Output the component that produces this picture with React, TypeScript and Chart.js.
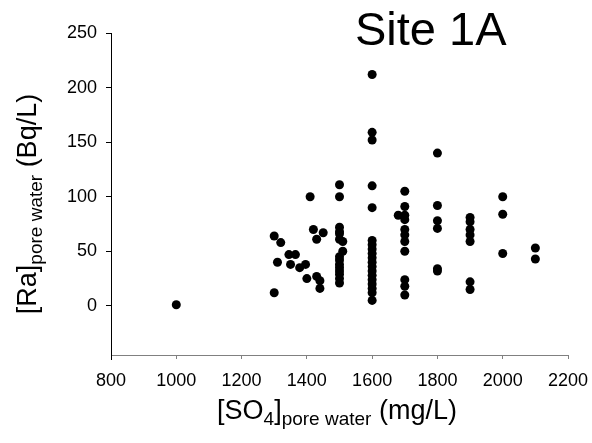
import { useEffect, useRef } from 'react';
import { Chart, registerables } from 'chart.js';

Chart.register(...registerables);

// [SO4] pore water (mg/L)
const sulfateMgL = [
  1000,
  1300, 1320, 1310, 1300, 1345, 1365, 1350, 1378, 1396, 1400, 1410, 1420, 1450, 1430, 1430, 1440, 1440,
  1500, 1500, 1500, 1500, 1500, 1500, 1500, 1500, 1500, 1500, 1500, 1500, 1500, 1500, 1510, 1510,
  1600, 1600, 1600, 1600, 1600, 1600, 1600, 1600, 1600, 1600, 1600, 1600, 1600, 1600, 1600, 1600, 1600, 1600, 1600,
  1700, 1700, 1700, 1700, 1700, 1700, 1700, 1700, 1700, 1700, 1700, 1680,
  1800, 1800, 1800, 1800, 1800, 1800,
  1900, 1900, 1900, 1900, 1900, 1900, 1900,
  2000, 2000, 2000,
  2100, 2100,
];

// [Ra] pore water (Bq/L)
const radiumBqL = [
  1,
  64, 58, 40, 12, 47, 47, 38, 35, 38, 25, 100, 70, 67, 61, 27, 23, 16,
  111, 100, 72, 66, 61, 45, 42, 38, 35, 32, 29, 25, 21, 68, 59, 50,
  212, 159, 152, 110, 90, 60, 56, 52, 48, 44, 40, 36, 32, 28, 24, 20, 16, 12, 5,
  105, 91, 83, 79, 70, 65, 59, 50, 24, 18, 10, 83,
  140, 92, 78, 71, 34, 32,
  81, 77, 70, 65, 59, 22, 15,
  100, 84, 48,
  53, 43,
];

const yTickValues = [0, 50, 100, 150, 200, 250];
const chartTitle = 'Site 1A';
const xTitleParts = [
  { text: '[SO', sub: false },
  { text: '4', sub: true },
  { text: ']', sub: false },
  { text: 'pore water', sub: true },
  { text: ' (mg/L)', sub: false },
];
const yTitleParts = [
  { text: '[Ra]', sub: false },
  { text: 'pore water', sub: true },
  { text: ' (Bq/L)', sub: false },
];

const FONT = '"Liberation Sans", Arial, sans-serif';
const MAIN_SIZE = 27;
const SUB_SIZE = 19;
const SUB_SHIFT = 6;

function drawRich(ctx: CanvasRenderingContext2D, parts: { text: string; sub: boolean }[], cx: number, baseline: number) {
  let total = 0;
  const widths = parts.map((p) => {
    ctx.font = `${p.sub ? SUB_SIZE : MAIN_SIZE}px ${FONT}`;
    const w = ctx.measureText(p.text).width;
    total += w;
    return w;
  });
  let x = cx - total / 2;
  ctx.textAlign = 'left';
  ctx.textBaseline = 'alphabetic';
  parts.forEach((p, i) => {
    ctx.font = `${p.sub ? SUB_SIZE : MAIN_SIZE}px ${FONT}`;
    ctx.fillText(p.text, x, baseline + (p.sub ? SUB_SHIFT : 0));
    x += widths[i];
  });
}

const labelsPlugin = {
  id: 'labelsPlugin',
  afterDraw(chart: any) {
    const ctx: CanvasRenderingContext2D = chart.ctx;
    const area = chart.chartArea;
    ctx.save();
    // y axis line extension below x axis
    ctx.strokeStyle = '#000';
    ctx.lineWidth = 1;
    ctx.beginPath();
    ctx.moveTo(Math.round(area.left) + 0.5, area.bottom);
    ctx.lineTo(Math.round(area.left) + 0.5, area.bottom + 5);
    ctx.stroke();

    ctx.fillStyle = '#000';
    ctx.font = `47px ${FONT}`;
    ctx.textAlign = 'left';
    ctx.textBaseline = 'alphabetic';
    ctx.fillText(chartTitle, 355, 45);

    drawRich(ctx, xTitleParts, 337, 419);

    ctx.translate(36, 204);
    ctx.rotate(-Math.PI / 2);
    drawRich(ctx, yTitleParts, 0, 0);
    ctx.restore();
  },
};

export default function App() {
  const ref = useRef<HTMLCanvasElement | null>(null);
  useEffect(() => {
    if (!ref.current) return;
    const chart = new Chart(ref.current, {
      type: 'scatter',
      data: {
        datasets: [
          {
            data: sulfateMgL.map((x, i) => ({ x, y: radiumBqL[i] })),
            backgroundColor: '#000',
            borderColor: '#000',
            pointRadius: 4.5,
            pointHoverRadius: 4.5,
            borderWidth: 0,
          },
        ],
      },
      options: {
        responsive: false,
        animation: false,
        events: [],
        layout: { padding: { left: 0, right: 24, top: 33, bottom: 0 } },
        plugins: { legend: { display: false }, tooltip: { enabled: false }, title: { display: false } },
        scales: {
          x: {
            type: 'linear',
            min: 800,
            max: 2200,
            ticks: {
              stepSize: 200,
              color: '#000',
              font: { family: FONT, size: 18 },
              padding: 11,
              maxRotation: 0,
              callback: (v: any) => String(v),
            },
            grid: { drawOnChartArea: false, drawTicks: true, tickLength: 4, color: '#808080' },
            border: { color: '#808080', width: 1 },
            afterFit(s: any) {
              s.height = 88;
              s.paddingRight = 0;
              s.paddingLeft = 0;
            },
          },
          y: {
            type: 'linear',
            min: -45,
            max: 250,
            afterBuildTicks(s: any) {
              s.ticks = yTickValues.map((v) => ({ value: v }));
            },
            ticks: { color: '#000', font: { family: FONT, size: 18 }, padding: 9, callback: (v: any) => String(v) },
            grid: { drawOnChartArea: false, drawTicks: true, tickLength: 5, color: '#000' },
            border: { color: '#000', width: 1 },
            afterFit(s: any) {
              s.width = 111;
              s.paddingTop = 0;
              s.paddingBottom = 0;
            },
          },
        },
      },
      plugins: [labelsPlugin],
    });
    return () => chart.destroy();
  }, []);
  return (
    <div style={{ position: 'fixed', left: 0, top: 0, width: 592, height: 443, background: '#fff' }}>
      <canvas ref={ref} width={592} height={443} />
    </div>
  );
}
